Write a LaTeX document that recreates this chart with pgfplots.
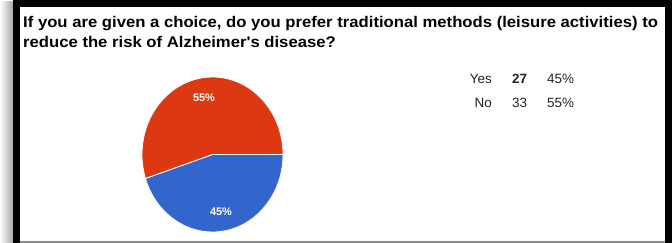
\documentclass[border=0pt]{standalone}
\usepackage{pgfplots}
\usepackage{pgfplotstable}
\pgfplotsset{compat=1.18}
\usepackage{fontspec}
\setmainfont{Liberation Sans}
\newfontfamily\titlefont{Liberation Sans}[FakeStretch=1.08]
\definecolor{gred}{HTML}{DC3912}
\definecolor{gblue}{HTML}{3366CC}
\definecolor{txt}{HTML}{222222}
\pgfplotstableread{
answer count
Yes 27
No 33
}\answers
\begin{document}
\begin{tikzpicture}
\pgfplotstablegetelem{0}{count}\of\answers \let\nyes\pgfplotsretval
\pgfplotstablegetelem{1}{count}\of\answers \let\nno\pgfplotsretval
\pgfmathsetmacro\angyes{360*\nyes/(\nyes+\nno)}
\pgfmathsetmacro\angno{360-\angyes}
\begin{axis}[
  width=672bp, height=253bp, scale only axis,
  xmin=0, xmax=672, ymin=0, ymax=253, y dir=reverse,
  hide axis, clip=false,
]
% frame and shadow
\shade[left color=white, right color=black!35] (axis cs:0,12) rectangle (axis cs:13,253);
\fill[black] (axis cs:13,10) rectangle (axis cs:672,253);
\fill[white] (axis cs:20,17) rectangle (axis cs:665,251);
\fill[black!45] (axis cs:20,251) rectangle (axis cs:665,253);
% title
\node[anchor=base west, inner sep=0pt, font=\titlefont\bfseries\fontsize{15.5}{18}\selectfont]
  at (axis cs:23,37) {If you are given a choice, do you prefer traditional methods (leisure activities) to};
\node[anchor=base west, inner sep=0pt, font=\titlefont\bfseries\fontsize{15.5}{18}\selectfont]
  at (axis cs:23,57) {reduce the risk of Alzheimer's disease?};
% pie
\fill[gblue, draw=white, line width=0.8pt] (axis cs:212.5,164.5) -- ++(70.5bp,0)
  arc[start angle=0, end angle=-\angyes, x radius=70.5bp, y radius=77.5bp] -- cycle;
\fill[gred, draw=white, line width=0.8pt] (axis cs:212.5,164.5) -- ++(70.5bp,0)
  arc[start angle=0, end angle=\angno, x radius=70.5bp, y radius=77.5bp] -- cycle;
\node[white, font=\bfseries\fontsize{11}{12}\selectfont, inner sep=0pt] at (axis cs:204,108) {55\%};
\node[white, font=\bfseries\fontsize{11}{12}\selectfont, inner sep=0pt] at (axis cs:221,222) {45\%};
% summary table
\node[anchor=base east, inner sep=0pt, txt, font=\fontsize{13.5}{16}\selectfont] at (axis cs:492,93) {Yes};
\node[anchor=base west, inner sep=0pt, txt, font=\bfseries\fontsize{13.5}{16}\selectfont] at (axis cs:512,93) {\nyes};
\node[anchor=base west, inner sep=0pt, txt, font=\fontsize{13.5}{16}\selectfont] at (axis cs:547,93) {45\%};
\node[anchor=base east, inner sep=0pt, txt, font=\fontsize{13.5}{16}\selectfont] at (axis cs:492,117) {No};
\node[anchor=base west, inner sep=0pt, txt, font=\fontsize{13.5}{16}\selectfont] at (axis cs:512,117) {\nno};
\node[anchor=base west, inner sep=0pt, txt, font=\fontsize{13.5}{16}\selectfont] at (axis cs:547,117) {55\%};
\end{axis}
\end{tikzpicture}
\end{document}
